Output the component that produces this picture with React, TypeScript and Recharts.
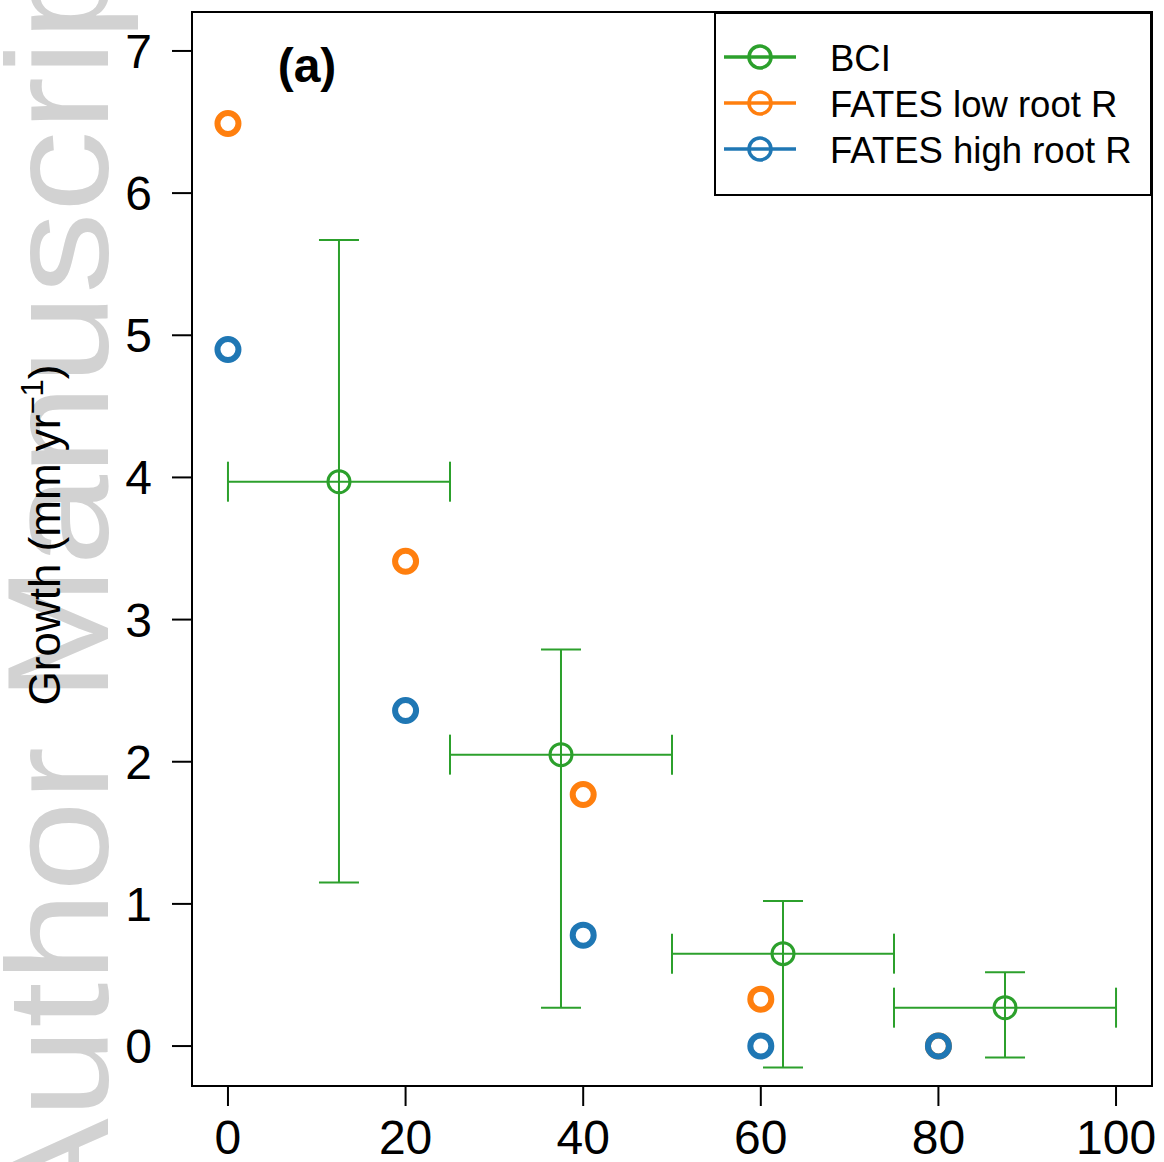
import { ScatterChart, Scatter, XAxis, YAxis, ErrorBar, ReferenceArea, Legend } from "recharts";

// BCI observations: bin midpoints, mean growth, and error ranges
const bciX = [12.5, 37.5, 62.5, 87.5];
const bciY = [3.97, 2.05, 0.65, 0.27];
const bciYLow = [1.15, 0.27, -0.15, -0.08];
const bciYHigh = [5.67, 2.79, 1.02, 0.52];
const bciXLow = [0, 25, 50, 75];
const bciXHigh = [25, 50, 75, 100];

// FATES runs
const fatesX = [0, 20, 40, 60, 80];
const lowRootY = [6.49, 3.41, 1.77, 0.33, 0];
const highRootY = [4.9, 2.36, 0.78, 0, 0];

const xTicks = [0, 20, 40, 60, 80, 100];
const yTicks = [0, 1, 2, 3, 4, 5, 6, 7];

const seriesNames = ["BCI", "FATES low root R", "FATES high root R"];
const seriesColors = ["#2ca02c", "#ff7f0e", "#1f77b4"];

const FONT = "'Liberation Sans', Arial, Helvetica, sans-serif";

const bciData = bciX.map((x, i) => ({
  x,
  y: bciY[i],
  ex: [x - bciXLow[i], bciXHigh[i] - x],
  ey: [bciY[i] - bciYLow[i], bciYHigh[i] - bciY[i]],
}));
const lowData = fatesX.map((x, i) => ({ x, y: lowRootY[i] }));
const highData = fatesX.map((x, i) => ({ x, y: highRootY[i] }));

const ring = (color: string, r: number, sw: number) => (props: any) => (
  <circle cx={props.cx} cy={props.cy} r={r} fill="none" stroke={color} strokeWidth={sw} />
);

function LegendBox() {
  return (
    <svg width={438} height={184} style={{ display: "block" }}>
      <rect x={1} y={1} width={436} height={182} fill="#fff" stroke="#000" strokeWidth={2} />
      {seriesNames.map((name, i) => {
        const cy = 45 + i * 46;
        return (
          <g key={name}>
            <line x1={10} x2={82} y1={cy} y2={cy} stroke={seriesColors[i]} strokeWidth={3.5} />
            <circle cx={46} cy={cy} r={11} fill="none" stroke={seriesColors[i]} strokeWidth={3.5} />
            <text x={116} y={cy + 14} fontSize={36.5} fontFamily={FONT} fill="#000">
              {name}
            </text>
          </g>
        );
      })}
    </svg>
  );
}

export default function App() {
  return (
    <div style={{ position: "absolute", left: 0, top: 0 }}>
      <ScatterChart width={1164} height={1162} margin={{ top: 12, right: 12, bottom: 0, left: 0 }}>
        <text
          transform="translate(108,1227) rotate(-90) scale(1.124,1)"
          fontSize={145}
          fontFamily={FONT}
          fill="#d2d2d2"
        >
          Author Manuscript
        </text>
        <XAxis
          type="number"
          dataKey="x"
          domain={[-4.05, 104.05]}
          ticks={xTicks}
          allowDataOverflow
          height={76}
          axisLine={false}
          tickSize={20}
          tickMargin={14}
          tickLine={{ stroke: "#000", strokeWidth: 2 }}
          tick={{ fill: "#000", fontSize: 48, fontFamily: FONT }}
        />
        <YAxis
          type="number"
          dataKey="y"
          domain={[-0.281, 7.274]}
          ticks={yTicks}
          allowDataOverflow
          width={192}
          axisLine={false}
          tickSize={20}
          tickMargin={20}
          tickLine={{ stroke: "#000", strokeWidth: 2 }}
          tick={{ fill: "#000", fontSize: 48, fontFamily: FONT }}
        />
        <ReferenceArea
          x1={-4.05}
          x2={104.05}
          y1={-0.281}
          y2={7.274}
          fill="none"
          stroke="#000"
          strokeWidth={2}
          ifOverflow="visible"
        />
        <Scatter
          name={seriesNames[0]}
          data={bciData}
          fill={seriesColors[0]}
          shape={ring(seriesColors[0], 11, 3)}
          isAnimationActive={false}
        >
          <ErrorBar dataKey="ex" direction="x" width={20} stroke={seriesColors[0]} strokeWidth={2} />
          <ErrorBar dataKey="ey" direction="y" width={20} stroke={seriesColors[0]} strokeWidth={2} />
        </Scatter>
        <Scatter
          name={seriesNames[1]}
          data={lowData}
          fill={seriesColors[1]}
          shape={ring(seriesColors[1], 10.5, 6)}
          isAnimationActive={false}
        />
        <Scatter
          name={seriesNames[2]}
          data={highData}
          fill={seriesColors[2]}
          shape={ring(seriesColors[2], 10.5, 6)}
          isAnimationActive={false}
        />
        <text x={307} y={82} textAnchor="middle" fontWeight="bold" fontSize={48} fontFamily={FONT} fill="#000">
          (a)
        </text>
        <text
          transform="translate(60,535) rotate(-90)"
          textAnchor="middle"
          fontSize={44}
          fontFamily={FONT}
          fill="#000"
        >
          Growth (mm yr
          <tspan fontSize={31} dy={-17}>
            −1
          </tspan>
          <tspan dy={17}>)</tspan>
        </text>
        <Legend
          layout="horizontal"
          verticalAlign="middle"
          align="center"
          wrapperStyle={{ top: 12, left: 714, width: 438, height: 184 }}
          content={() => <LegendBox />}
        />
      </ScatterChart>
    </div>
  );
}
